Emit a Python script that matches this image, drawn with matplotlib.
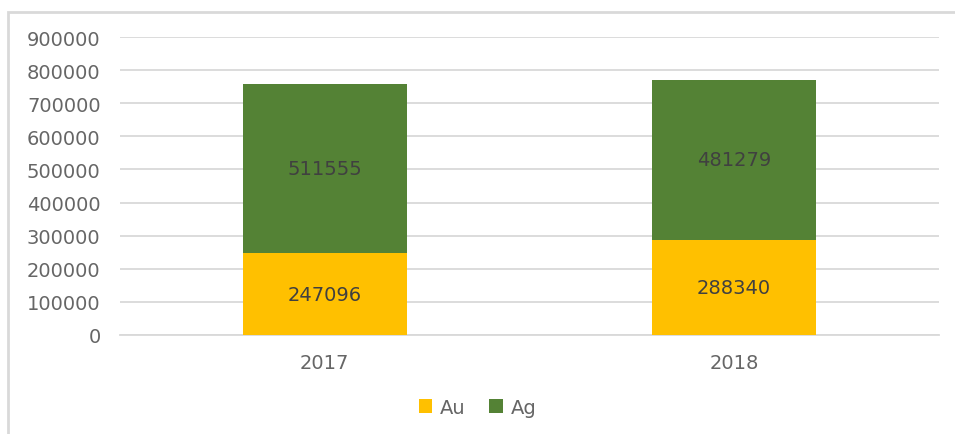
import matplotlib.pyplot as plt
import numpy as np

years = ["2017", "2018"]
au = [247096, 288340]
ag = [511555, 481279]

plt.rcParams['font.family'] = ['DejaVu Sans']

fig = plt.figure(figsize=(9.55, 4.35), dpi=100)
ax = fig.add_axes([0.1257, 0.2276, 0.8573, 0.685])

x = np.arange(len(years))
b1 = ax.bar(x, au, width=0.4, color="#ffc000", label="Au", zorder=3)
b2 = ax.bar(x, ag, width=0.4, bottom=au, color="#548235", label="Ag", zorder=3)

for bars in (b1, b2):
    for r in bars:
        ax.text(r.get_x() + r.get_width() / 2, r.get_y() + r.get_height() / 2,
                str(int(r.get_height())), ha="center", va="center",
                fontsize=14, color="#404040", zorder=4)

ax.set_xlim(-0.5, 1.5)
ax.set_ylim(0, 900000)
ax.set_yticks(np.arange(0, 900001, 100000))
ax.set_xticks(x)
ax.set_xticklabels(years)
ax.yaxis.grid(True, color="#d9d9d9", linewidth=1.3, zorder=0)
for s in ["top", "right", "left"]:
    ax.spines[s].set_visible(False)
ax.spines["bottom"].set_color("#d9d9d9")
ax.spines["bottom"].set_linewidth(1.3)
ax.tick_params(axis="both", length=0, labelsize=14, colors="#666666")
ax.tick_params(axis="y", pad=14)
ax.tick_params(axis="x", pad=13)

fig.legend(loc="center", bbox_to_anchor=(0.5, 0.062), ncol=2, frameon=False,
           fontsize=14, labelcolor="#666666", handlelength=0.7, handleheight=0.7,
           columnspacing=1.2, handletextpad=0.4)

border = plt.Rectangle((8 / 955, -0.05), 1.0, 1 - 13 / 435 + 0.05, transform=fig.transFigure,
                       fill=False, edgecolor="#d9d9d9", linewidth=2)
fig.patches.append(border)

fig.savefig("out.png", dpi=100)
